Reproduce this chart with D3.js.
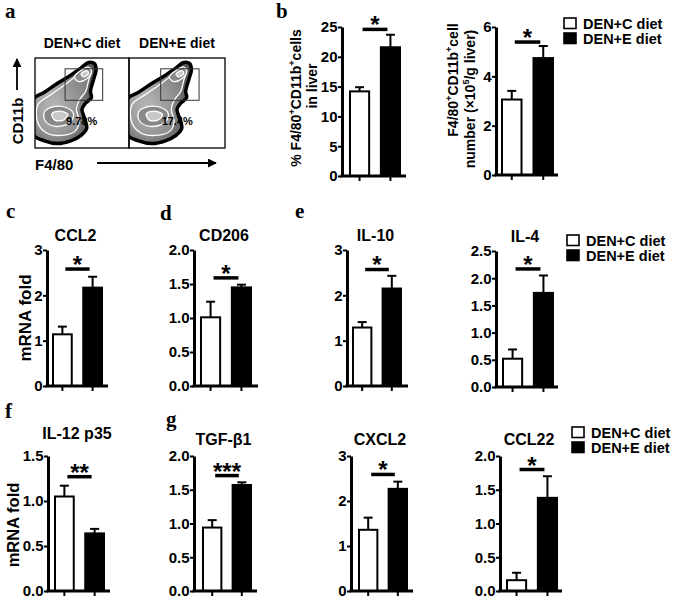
<!DOCTYPE html>
<html><head><meta charset="utf-8">
<script src="https://cdn.jsdelivr.net/npm/d3@7"></script>
<style>
body{margin:0;background:#fff}
svg{display:block}
text{font-family:"Liberation Sans",Arial,sans-serif;font-weight:bold;fill:#000}
.letter{font-family:"Liberation Serif","Times New Roman",serif;font-weight:bold;font-size:21px}
</style>
</head><body><svg id="c" width="675" height="599"></svg>
<script>
// ---------------- DATA ----------------
const groups = ["DEN+C diet", "DEN+E diet"];
const panelTitles = [null, null, "CCL2", "CD206", "IL-10", "IL-4", "IL-12 p35", "TGF-\u03B21", "CXCL2", "CCL22"];
const meanC = [14.2, 3.06, 1.14, 1.01, 1.29, 0.52, 1.05, 0.94, 1.36, 0.16];
const meanE = [21.6, 4.74, 2.17, 1.45, 2.15, 1.73, 0.64, 1.57, 2.27, 1.38];
const semC  = [0.7, 0.35, 0.17, 0.23, 0.12, 0.17, 0.12, 0.11, 0.27, 0.11];
const semE  = [2.1, 0.49, 0.24, 0.04, 0.28, 0.32, 0.05, 0.04, 0.16, 0.32];
const yMax  = [25, 6, 3, 2, 3, 2.5, 1.5, 2, 3, 2];
const yTicks = [[0,5,10,15,20,25],[0,2,4,6],[0,1,2,3],[0,0.5,1,1.5,2],[0,1,2,3],
                [0,0.5,1,1.5,2,2.5],[0,0.5,1,1.5],[0,0.5,1,1.5,2],[0,1,2,3],[0,0.5,1,1.5,2]];
const tickFmt = ["d","d","d",".1f","d",".1f",".1f",".1f","d",".1f"];
const sigLevel = [24.6, 5.39, 2.58, 1.59, 2.57, 2.17, 1.27, 1.71, 2.59, 1.80];
const sigLabel = ["*","*","*","*","*","*","**","***","*","*"];
const flowPercents = ["9.78%", "17.4%"];

// flow cytometry contour shapes (normalised box coordinates)
const flowOuter = [[-0.02,0.46],[0.10,0.38],[0.24,0.28],[0.38,0.19],[0.49,0.11],[0.57,0.05],[0.63,0.06],[0.65,0.13],[0.62,0.25],[0.59,0.37],[0.60,0.44],[0.54,0.50],[0.50,0.57],[0.53,0.68],[0.55,0.78],[0.49,0.86],[0.38,0.92],[0.24,0.95],[0.10,0.92],[-0.02,0.85]];
const flowRing2 = [[0.03,0.52],[0.18,0.40],[0.34,0.28],[0.46,0.18],[0.55,0.11],[0.60,0.13],[0.57,0.25],[0.54,0.37],[0.47,0.47],[0.44,0.57],[0.47,0.70],[0.43,0.81],[0.28,0.86],[0.12,0.83],[0.03,0.72]];
const flowRing3a = [[0.10,0.60],[0.20,0.54],[0.33,0.55],[0.41,0.62],[0.37,0.72],[0.22,0.76],[0.11,0.70]];
const flowRing4a = [[0.18,0.62],[0.27,0.59],[0.35,0.63],[0.30,0.69],[0.21,0.69]];
const flowRing3b = [[0.42,0.21],[0.50,0.13],[0.57,0.10],[0.60,0.15],[0.55,0.23],[0.46,0.26]];
const flowRing4b = [[0.49,0.18],[0.55,0.14],[0.57,0.17],[0.52,0.21]];

// ---------------- LAYOUT ----------------
const layout = [
  {ax:342, x0:350, x1:400, xEnd:406, yTop:27,  yBot:176},
  {ax:496, x0:502, x1:553, xEnd:558, yTop:27,  yBot:175},
  {ax:47,  x0:53,  x1:102, xEnd:108, yTop:250, yBot:386, ty:241},
  {ax:194, x0:201, x1:251, xEnd:258, yTop:250, yBot:386, ty:241},
  {ax:347, x0:353, x1:401, xEnd:408, yTop:250, yBot:386, ty:241},
  {ax:496, x0:503, x1:553, xEnd:558, yTop:251, yBot:387, ty:242},
  {ax:48,  x0:55,  x1:104, xEnd:110, yTop:456, yBot:591, ty:439},
  {ax:194, x0:203, x1:251, xEnd:257, yTop:456, yBot:591, ty:445},
  {ax:351, x0:359, x1:407, xEnd:413, yTop:456, yBot:591, ty:445},
  {ax:500, x0:507, x1:557, xEnd:562, yTop:456, yBot:591, ty:445}
];

const svg = d3.select("#c");
const defs = svg.append("defs");
defs.append("marker").attr("id","arr").attr("viewBox","0 0 10 10").attr("refX",9).attr("refY",5)
  .attr("markerWidth",5).attr("markerHeight",5).attr("orient","auto")
  .append("path").attr("d","M0,0L10,5L0,10z").attr("fill","#000");

// ---------------- BAR PANELS ----------------
layout.forEach((L, i) => {
  const g = svg.append("g");
  const y = d3.scaleLinear().domain([0, yMax[i]]).range([L.yBot, L.yTop]);
  const x = d3.scaleBand().domain(groups).range([L.x0, L.x1]).paddingInner(0.38);
  const bw = x.bandwidth();
  const means = [meanC[i], meanE[i]], sems = [semC[i], semE[i]];

  g.selectAll("rect.bar").data(groups).join("rect").attr("class","bar")
    .attr("x", d => x(d)).attr("width", bw)
    .attr("y", (d,k) => y(means[k])).attr("height", (d,k) => y(0) - y(means[k]))
    .attr("fill", (d,k) => k ? "#000" : "#fff").attr("stroke","#000").attr("stroke-width",2);
  groups.forEach((d,k) => {
    const cx = x(d) + bw/2;
    g.append("line").attr("x1",cx).attr("x2",cx).attr("y1",y(means[k])).attr("y2",y(means[k]+sems[k]))
      .attr("stroke","#000").attr("stroke-width",2);
    g.append("line").attr("x1",cx-4.5).attr("x2",cx+4.5).attr("y1",y(means[k]+sems[k])).attr("y2",y(means[k]+sems[k]))
      .attr("stroke","#000").attr("stroke-width",2);
  });
  const ya = g.append("g").attr("transform",`translate(${L.ax},0)`)
    .call(d3.axisLeft(y).tickValues(yTicks[i]).tickFormat(d3.format(tickFmt[i])).tickSize(4).tickSizeOuter(0).tickPadding(0.5));
  ya.select(".domain").attr("stroke-width",3);
  ya.selectAll(".tick line").attr("stroke-width",2);
  ya.selectAll(".tick text").attr("font-size",15).attr("font-weight","bold")
    .attr("font-family","'Liberation Sans',Arial,sans-serif");
  g.append("line").attr("x1",L.ax-1.5).attr("x2",L.xEnd).attr("y1",L.yBot).attr("y2",L.yBot)
    .attr("stroke","#000").attr("stroke-width",3);
  const xa = g.append("g").attr("transform",`translate(0,${L.yBot})`)
    .call(d3.axisBottom(x).tickSize(5).tickFormat("").tickSizeOuter(0));
  xa.select(".domain").remove();
  xa.selectAll(".tick line").attr("stroke-width",2);
  const c0 = x(groups[0]) + bw/2 + 3, c1 = x(groups[1]) + bw/2 - 3;
  const sy = y(sigLevel[i]);
  g.append("line").attr("x1",c0).attr("x2",c1).attr("y1",sy).attr("y2",sy)
    .attr("stroke","#000").attr("stroke-width",3.5);
  g.append("text").attr("x",(c0+c1)/2).attr("y",sy + 4).attr("text-anchor","middle")
    .attr("font-size",24).text(sigLabel[i]);
  if (panelTitles[i]) {
    g.append("text").attr("x",(L.ax+L.xEnd)/2 - 2).attr("y",L.ty).attr("text-anchor","middle")
      .attr("font-size",16).text(panelTitles[i]);
  }
});

// ---------------- Y-AXIS LABELS ----------------
function rotLabel(x, cy, size, parts) {
  const t = svg.append("text").attr("transform",`translate(${x},${cy}) rotate(-90)`)
    .attr("text-anchor","middle").attr("font-size",size);
  parts.forEach(p => {
    if (p.sup) t.append("tspan").attr("dy",-6).attr("font-size",size*0.65).text(p.t);
    else if (p.after) t.append("tspan").attr("dy",6).text(p.t);
    else t.append("tspan").text(p.t);
  });
}
rotLabel(301, 98, 14, [{t:"% F4/80"},{t:"+",sup:1},{t:"CD11b",after:1},{t:"+",sup:1},{t:"cells",after:1}]);
rotLabel(317, 86, 14, [{t:"in liver"}]);
rotLabel(458, 80, 14, [{t:"F4/80"},{t:"+",sup:1},{t:"CD11b",after:1},{t:"+",sup:1},{t:"cell",after:1}]);
rotLabel(475, 99, 14, [{t:"number (\u00D710"},{t:"5",sup:1},{t:"/g liver)",after:1}]);
rotLabel(31, 318, 17, [{t:"mRNA fold"}]);
rotLabel(19, 525, 16.5, [{t:"mRNA fold"}]);

// ---------------- LEGENDS ----------------
[{x:564,y:18},{x:567,y:235},{x:572,y:427}].forEach(p => {
  groups.forEach((gname,k) => {
    svg.append("rect").attr("x",p.x).attr("y",p.y + k*15).attr("width",12).attr("height",10.5)
      .attr("fill",k ? "#000" : "#fff").attr("stroke","#000").attr("stroke-width",1.6);
    svg.append("text").attr("x",p.x+19).attr("y",p.y + k*15 + 11).attr("font-size",14.5).text(gname);
  });
});

// ---------------- PANEL LETTERS ----------------
[["a",5,18],["b",276,18],["c",6,218],["d",160,220],["e",295,218],["f",5,418],["g",166,426]]
  .forEach(([l,x,y]) => svg.append("text").attr("class","letter").attr("x",x).attr("y",y).text(l));

// ---------------- PANEL A : FLOW PLOTS ----------------
const boxes = [{x:35,y:58,w:94,h:90},{x:129,y:58,w:96,h:90}];
const gateX = [0.32, 0.33], gateY = 0.12, gateW = 0.40, gateH = 0.35;
const grad = defs.append("radialGradient").attr("id","fg").attr("cx","35%").attr("cy","55%").attr("r","60%");
grad.append("stop").attr("offset","0%").attr("stop-color","#d8d8d8");
grad.append("stop").attr("offset","100%").attr("stop-color","#5a5a5a");
boxes.forEach((B, bi) => {
  const sx = d3.scaleLinear().domain([0,1]).range([B.x, B.x+B.w]);
  const sy = d3.scaleLinear().domain([0,1]).range([B.y, B.y+B.h]);
  const line = d3.line().x(d => sx(d[0])).y(d => sy(d[1])).curve(d3.curveCatmullRomClosed.alpha(0.5));
  const cid = "clip"+bi;
  defs.append("clipPath").attr("id",cid).append("rect").attr("x",B.x).attr("y",B.y).attr("width",B.w).attr("height",B.h);
  const g = svg.append("g").attr("clip-path",`url(#${cid})`);
  g.append("path").attr("d",line(flowOuter)).attr("fill","url(#fg)").attr("stroke","#000").attr("stroke-width",3.5);
  g.append("path").attr("d",line(flowRing2)).attr("fill","#9c9c9c").attr("fill-opacity",0.55).attr("stroke","#fff").attr("stroke-width",1.3);
  g.append("path").attr("d",line(flowRing3a)).attr("fill","#888").attr("stroke","#fff").attr("stroke-width",1.3);
  g.append("path").attr("d",line(flowRing4a)).attr("fill","#c8c8c8").attr("stroke","#fff").attr("stroke-width",1.3);
  g.append("path").attr("d",line(flowRing3b)).attr("fill","#8a8a8a").attr("stroke","#fff").attr("stroke-width",1.3);
  g.append("path").attr("d",line(flowRing4b)).attr("fill","#c8c8c8").attr("stroke","#fff").attr("stroke-width",1.3);
  svg.append("rect").attr("x",B.x).attr("y",B.y).attr("width",B.w).attr("height",B.h)
    .attr("fill","none").attr("stroke","#000").attr("stroke-width",1.3);
  svg.append("rect").attr("x",sx(gateX[bi])).attr("y",sy(gateY)).attr("width",gateW*B.w).attr("height",gateH*B.h)
    .attr("fill","none").attr("stroke","#333").attr("stroke-width",1);
  svg.append("text").attr("x",sx(gateX[bi]+0.01)).attr("y",sy(0.74)).attr("font-size",11).text(flowPercents[bi]);
  svg.append("text").attr("x",B.x + B.w/2).attr("y",48).attr("text-anchor","middle").attr("font-size",14).text(groups[bi]);
});
svg.append("text").attr("x",35).attr("y",170).attr("font-size",15).text("F4/80");
svg.append("line").attr("x1",97).attr("x2",216).attr("y1",163).attr("y2",163)
  .attr("stroke","#000").attr("stroke-width",1.8).attr("marker-end","url(#arr)");
svg.append("text").attr("transform","translate(23,121) rotate(-90)").attr("text-anchor","middle").attr("font-size",15).text("CD11b");
svg.append("line").attr("x1",17).attr("x2",17).attr("y1",90).attr("y2",59)
  .attr("stroke","#000").attr("stroke-width",1.8).attr("marker-end","url(#arr)");
</script>
</body></html>
